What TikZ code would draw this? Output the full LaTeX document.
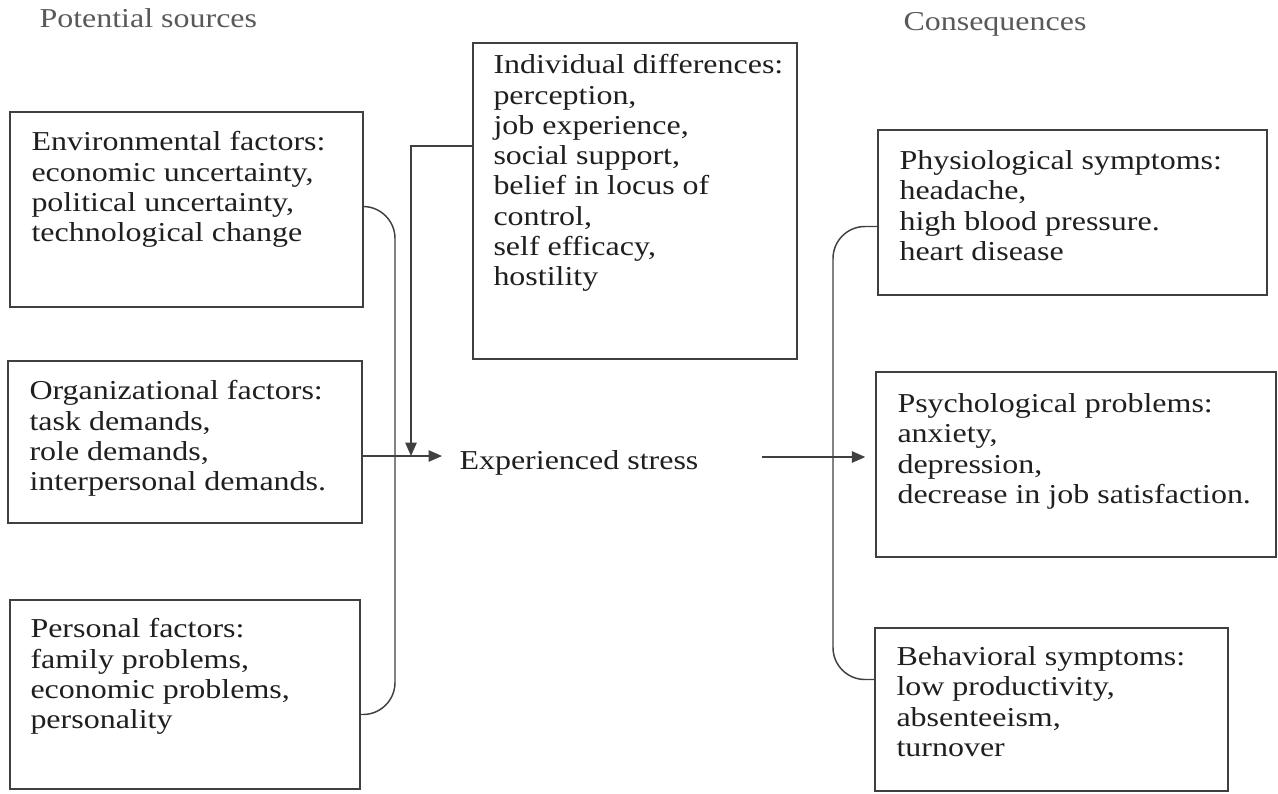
\documentclass[tikz,border=0pt]{standalone}
\usepackage{fontspec}
\setmainfont{Liberation Serif}[FakeStretch=1.17]
\usetikzlibrary{arrows.meta,fit,calc}

\tikzset{every picture/.style={line width=0.75pt}}
\tikzset{
  factor/.style={draw=black!75, line width=1.1pt, inner sep=0pt},
  factortext/.style={anchor=north west, inner sep=0pt, align=left, text=black!88, font=\fontsize{20.5}{22.7}\selectfont},
  heading/.style={anchor=base west, inner sep=0pt, text=black!65, font=\fontsize{20.5}{22.7}\selectfont},
  flow/.style={draw=black!75, line width=1.1pt, -{Triangle[length=10pt,width=8.5pt]}},
  linkline/.style={draw=black!75, line width=1.1pt, rounded corners=24pt}
}

\begin{document}
\begin{tikzpicture}[x=0.75pt,y=0.75pt,yscale=-1,xscale=1]
    \useasboundingbox (0,0) rectangle (1278,793);

    % Headings
    \node[heading] (sources) at (39,27) {Potential sources};
    \node[heading] (conseq) at (903,30) {Consequences};

    % Potential sources
    \node[factor, fit={(10,112) (363,307)}] (env) {};
    \node[factortext] (envtext) at (31,131) {Environmental factors:\\economic uncertainty,\\political uncertainty,\\technological change};
    \node[factor, fit={(8,361) (362,523)}] (org) {};
    \node[factortext] (orgtext) at (29,380) {Organizational factors:\\task demands,\\role demands,\\interpersonal demands.};
    \node[factor, fit={(10,600) (360,789)}] (pers) {};
    \node[factortext] (perstext) at (30,618) {Personal factors:\\family problems,\\economic problems,\\personality};

    % Moderator
    \node[factor, fit={(473,43) (797,359)}] (indiv) {};
    \node[factortext] (indivtext) at (493,54) {Individual differences:\\perception,\\job experience,\\social support,\\belief in locus of\\control,\\self efficacy,\\hostility};

    % Stress
    \node[heading, text=black!88] (stress) at (459,469) {Experienced stress};

    % Consequences
    \node[factor, fit={(878,130) (1267,295)}] (physio) {};
    \node[factortext] (physiotext) at (899,150) {Physiological symptoms:\\headache,\\high blood pressure.\\heart disease};
    \node[factor, fit={(876,372) (1276,557)}] (psych) {};
    \node[factortext] (psychtext) at (897,393) {Psychological problems:\\anxiety,\\depression,\\decrease in job satisfaction.};
    \node[factor, fit={(875,628) (1228,791)}] (behav) {};
    \node[factortext] (behavtext) at (896,646) {Behavioral symptoms:\\low productivity,\\absenteeism,\\turnover};

    % Connectors
    \coordinate (join) at (411,456);
    \coordinate (lbar) at (395,450);
    \coordinate (rbar) at (833,450);
    \coordinate (sout) at (762,457);

    \draw[linkline] ($(env.east)+(0,-3)$) -| (lbar) |- ($(pers.east)+(0,20)$);
    \draw[flow] (indiv.west |- 0,146) -| (join);
    \draw[flow, shorten >=12.75pt] (org.east |- join) -- (stress.west |- join);
    \draw[flow, shorten >=7.5pt] (sout) -- (psych.west |- sout);
    \draw[linkline] ($(physio.west)+(0,14)$) -| (rbar) |- ($(behav.west)+(0,-30)$);

\end{tikzpicture}
\end{document}
